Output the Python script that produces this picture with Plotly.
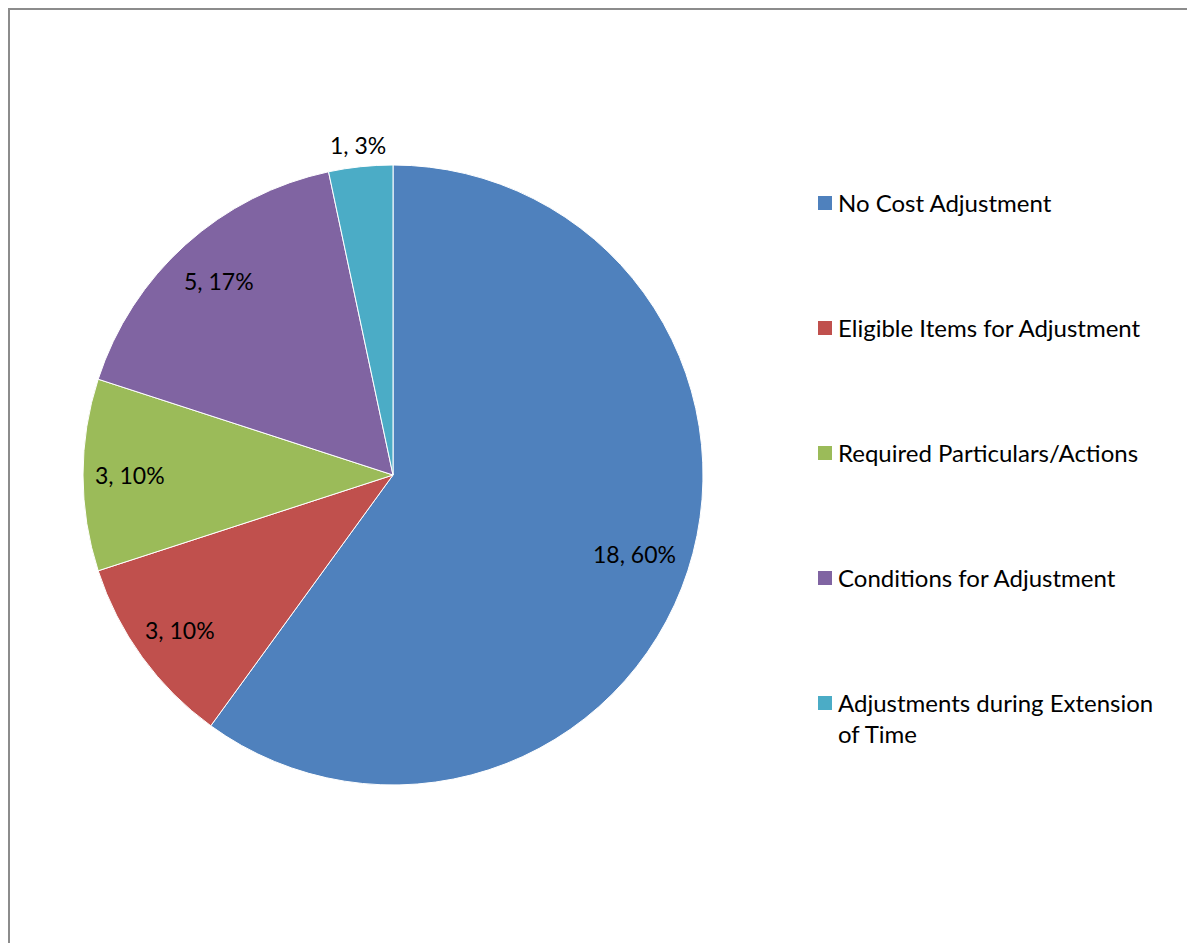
import math
import plotly.graph_objects as go

labels = ["No Cost Adjustment", "Eligible Items for Adjustment", "Required Particulars/Actions",
          "Conditions for Adjustment", "Adjustments during Extension of Time"]
legend_text = ["No Cost Adjustment", "Eligible Items for Adjustment", "Required Particulars/Actions",
               "Conditions for Adjustment", "Adjustments during Extension<br>of Time"]
values = [18, 3, 3, 5, 1]
colors = ["#4F81BD", "#C0504D", "#9BBB59", "#8064A2", "#4BACC6"]
label_radius = [0.82, 0.85, 0.85, 0.84, 1.07]   # relative label distance from the centre

W, H = 1187, 935
FONT = "Lato"

def px(x):
    return x / W

def py(y):
    return 1 - y / H

cx, cy, r = 385, 467, 310

fig = go.Figure(go.Pie(
    labels=labels, values=values, sort=False, direction="clockwise", rotation=0,
    marker=dict(colors=colors, line=dict(color="white", width=1)),
    textinfo="none", showlegend=False, hoverinfo="label+value+percent",
    domain=dict(x=[px(cx - r), px(cx + r)], y=[py(cy + r), py(cy - r)]),
))

total = sum(values)
annotations = []
cum = 0
for v, f in zip(values, label_radius):
    mid = (cum + v / 2) / total * 2 * math.pi
    cum += v
    lx = cx + f * r * math.sin(mid)
    ly = cy - f * r * math.cos(mid)
    annotations.append(dict(xref="paper", yref="paper", x=px(lx), y=py(ly), xanchor="center",
                            yanchor="middle", showarrow=False,
                            text=f"{v}, {round(100 * v / total)}%",
                            font=dict(family=FONT, size=23, color="black")))

shapes = [dict(type="rect", xref="paper", yref="paper", x0=px(1), x1=px(1185), y0=-0.05, y1=py(1),
               line=dict(color="#8c8c8c", width=2), fillcolor="rgba(0,0,0,0)")]
for i, (t, c) in enumerate(zip(legend_text, colors)):
    yc = 195 + 125 * i
    shapes.append(dict(type="rect", xref="paper", yref="paper", x0=px(810), x1=px(824),
                       y0=py(yc + 7), y1=py(yc - 7), fillcolor=c, line=dict(width=0)))
    annotations.append(dict(xref="paper", yref="paper", x=px(828), y=py(yc - 17), xanchor="left",
                            yanchor="top", align="left", text=t, showarrow=False,
                            font=dict(family=FONT, size=24, color="black")))

fig.update_layout(width=W, height=H, margin=dict(l=0, r=0, t=0, b=0),
                  paper_bgcolor="white", plot_bgcolor="white",
                  shapes=shapes, annotations=annotations)
fig.write_html("out.html")
